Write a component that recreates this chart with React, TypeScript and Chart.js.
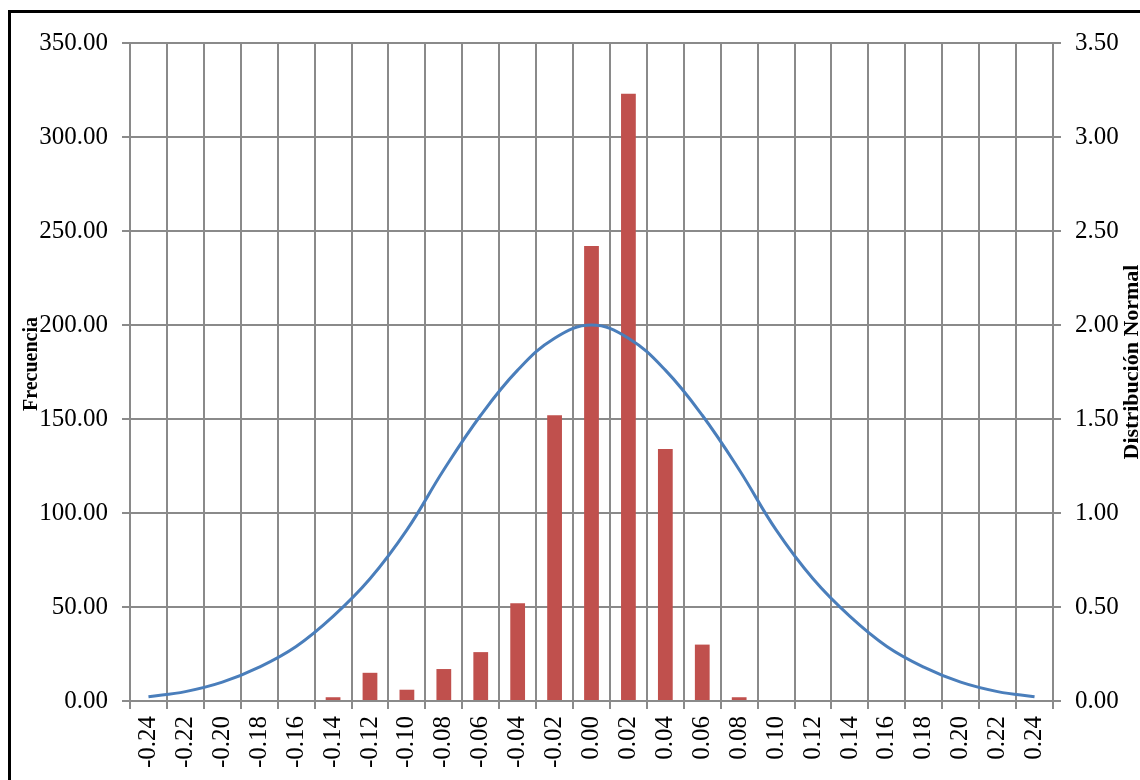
import React, { useEffect, useRef } from 'react';
import { Chart, registerables } from 'chart.js';

Chart.register(...registerables);

// ---- data ----
const categories = [
  '-0.24', '-0.22', '-0.20', '-0.18', '-0.16', '-0.14', '-0.12', '-0.10', '-0.08', '-0.06', '-0.04', '-0.02',
  '0.00', '0.02', '0.04', '0.06', '0.08', '0.10', '0.12', '0.14', '0.16', '0.18', '0.20', '0.22', '0.24',
];
const frequency = [0, 0, 0, 0, 0, 2, 15, 6, 17, 26, 52, 152, 242, 323, 134, 30, 2, 0, 0, 0, 0, 0, 0, 0, 0];
const normalDist = [
  0.023, 0.05, 0.1, 0.18, 0.29, 0.45, 0.65, 0.91, 1.23, 1.52, 1.76, 1.93, 2.0,
  1.93, 1.76, 1.52, 1.23, 0.91, 0.65, 0.45, 0.29, 0.18, 0.1, 0.05, 0.023,
];
const leftTitle = 'Frecuencia';
const rightTitle = 'Distribución Normal';

const FONT = '"Liberation Serif", "Times New Roman", serif';
const GRID = '#8a8a8a';

const axisTitles = {
  id: 'axisTitles',
  afterDraw(chart: any) {
    const ctx = chart.ctx;
    const { top, bottom } = chart.chartArea;
    const cy = (top + bottom) / 2;
    ctx.save();
    ctx.fillStyle = '#000';
    ctx.textAlign = 'center';
    ctx.textBaseline = 'alphabetic';
    ctx.font = `bold 20px ${FONT}`;
    ctx.translate(37, cy - 8);
    ctx.rotate(-Math.PI / 2);
    ctx.fillText(leftTitle, 0, 0);
    ctx.restore();

    ctx.save();
    ctx.fillStyle = '#000';
    ctx.textAlign = 'center';
    ctx.textBaseline = 'alphabetic';
    ctx.font = `bold 22px ${FONT}`;
    ctx.translate(1138, cy - 10);
    ctx.rotate(-Math.PI / 2);
    ctx.fillText(rightTitle, 0, 0);
    ctx.restore();
  },
};

export default function App() {
  const ref = useRef<HTMLCanvasElement | null>(null);

  useEffect(() => {
    if (!ref.current) return;
    const chart = new Chart(ref.current, {
      type: 'bar',
      data: {
        labels: categories,
        datasets: [
          {
            type: 'line',
            label: rightTitle,
            data: normalDist,
            yAxisID: 'y1',
            borderColor: '#4A7EBB',
            backgroundColor: '#4A7EBB',
            borderWidth: 3,
            pointRadius: 0,
            tension: 0.4,
            fill: false,
            order: 0,
          } as any,
          {
            type: 'bar',
            label: leftTitle,
            data: frequency,
            yAxisID: 'y',
            backgroundColor: '#C0504D',
            borderWidth: 0,
            barPercentage: 0.4,
            categoryPercentage: 1,
            order: 1,
          },
        ],
      },
      options: {
        responsive: false,
        animation: false,
        devicePixelRatio: 1,
        layout: { padding: { top: 43, left: 0, right: 0, bottom: 0 } },
        plugins: { legend: { display: false }, tooltip: { enabled: false }, title: { display: false } },
        scales: {
          x: {
            offset: true,
            grid: { color: GRID, lineWidth: 2, offset: true, tickLength: 8, drawTicks: true },
            border: { color: GRID, width: 2 },
            ticks: {
              minRotation: 90,
              maxRotation: 90,
              autoSkip: false,
              padding: 7,
              color: '#000',
              font: { family: FONT, size: 25 },
            },
            afterFit: (s: any) => { s.height = 79; },
          },
          y: {
            position: 'left',
            min: 0,
            max: 350,
            grid: { color: GRID, lineWidth: 2, tickLength: 8 },
            border: { color: GRID, width: 2 },
            ticks: {
              stepSize: 50,
              padding: 14,
              color: '#000',
              font: { family: FONT, size: 25 },
              callback: (v: any) => Number(v).toFixed(2),
            },
            afterFit: (s: any) => { s.width = 130; },
          },
          y1: {
            position: 'right',
            min: 0,
            max: 3.5,
            grid: { color: GRID, lineWidth: 2, tickLength: 8, drawOnChartArea: false },
            border: { color: GRID, width: 2 },
            ticks: {
              stepSize: 0.5,
              padding: 14,
              color: '#000',
              font: { family: FONT, size: 25 },
              callback: (v: any) => Number(v).toFixed(2),
            },
            afterFit: (s: any) => { s.width = 87; },
          },
        },
      },
      plugins: [axisTitles],
    });
    return () => chart.destroy();
  }, []);

  return (
    <div style={{ position: 'fixed', left: 0, top: 0, width: 1140, height: 780, overflow: 'hidden', background: '#fff' }}>
      <div
        style={{
          position: 'absolute',
          left: 8,
          top: 10,
          width: 1300,
          height: 900,
          border: '3px solid #000',
        }}
      />
      <canvas ref={ref} width={1140} height={780} style={{ position: 'absolute', left: 0, top: 0, width: 1140, height: 780 }} />
    </div>
  );
}
